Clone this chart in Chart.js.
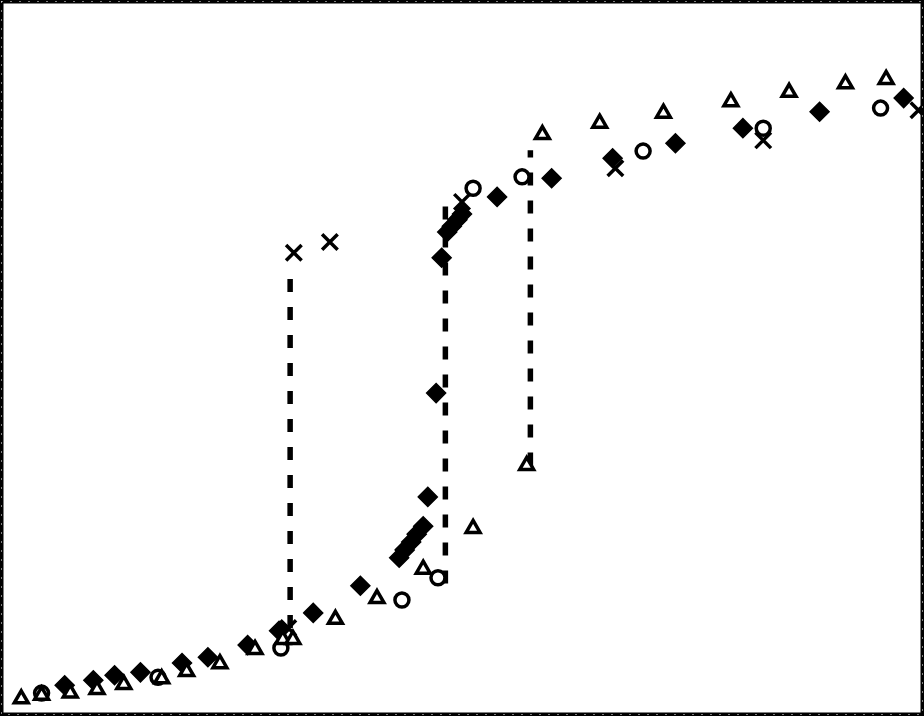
<!DOCTYPE html>
<html>
<head>
<meta charset="utf-8">
<script src="https://cdn.jsdelivr.net/npm/chart.js@4"></script>
<style>
  html, body { margin: 0; padding: 0; background: #fff; }
  canvas { display: block; }
</style>
</head>
<body>
<canvas id="chart" width="924" height="716"></canvas>
<script>
// values (x and y in plot units, 0..100)
const triX = [2.3, 4.5, 7.6, 10.5, 13.4, 17.5, 20.2, 23.8, 27.6, 30.6, 31.7, 36.3, 40.8, 45.8, 51.2, 57.0, 58.7, 64.9, 71.8, 79.1, 85.4, 91.5, 95.9];
const triY = [2.4, 2.9, 3.2, 3.7, 4.4, 5.2, 6.2, 7.3, 9.3, 10.7, 10.7, 13.5, 16.4, 20.5, 26.2, 35.0, 81.2, 82.8, 84.2, 85.8, 87.1, 88.3, 88.9];

const diaX = [7.0, 10.1, 12.4, 15.2, 19.7, 22.5, 26.8, 30.2, 33.9, 39.0, 43.2, 43.8, 44.5, 45.1, 45.8, 46.3, 47.2, 47.8, 48.4, 48.9, 49.5, 50.0, 53.8, 59.7, 66.3, 73.1, 80.4, 88.7, 97.8];
const diaY = [4.3, 5.0, 5.7, 6.1, 7.4, 8.2, 9.9, 11.9, 14.4, 18.2, 22.1, 23.2, 24.3, 25.4, 26.5, 30.6, 45.1, 64.0, 67.6, 68.4, 69.3, 70.1, 72.5, 75.1, 77.9, 80.0, 82.1, 84.4, 86.3];

const cirX = [4.5, 17.1, 30.4, 43.5, 47.4, 51.2, 56.5, 69.6, 82.6, 95.3];
const cirY = [3.2, 5.4, 9.5, 16.2, 19.3, 73.7, 75.3, 78.9, 82.1, 84.9];

const crsX = [31.2, 31.8, 35.7, 50.0, 66.6, 82.6, 99.4];
const crsY = [12.3, 64.7, 66.2, 71.8, 76.5, 80.4, 84.6];

// vertical dashed jumps: [x, yLow, yHigh]
const jumps = [
    [31.4, 12.3, 62.0],
    [48.2, 18.5, 71.5],
    [57.4, 35.0, 79.0]
];

const toPoints = (xs, ys) => xs.map((x, i) => ({ x: x, y: ys[i] }));

const frame = {
    id: 'frame',
    afterDraw(chart) {
        const ctx = chart.ctx;
        const w = chart.width, h = chart.height;
        ctx.save();
        ctx.strokeStyle = '#000';
        ctx.lineWidth = 4;
        ctx.strokeRect(1.5, 1.5, w - 3, h - 3);
        ctx.strokeStyle = '#fff';
        ctx.lineWidth = 1;
        ctx.setLineDash([1, 8]);
        ctx.strokeRect(1.5, 1.5, w - 3, h - 3);
        ctx.restore();
    }
};

const bg = {
    id: 'bg',
    beforeDraw(chart) {
        const ctx = chart.ctx;
        ctx.save();
        ctx.fillStyle = '#fff';
        ctx.fillRect(0, 0, chart.width, chart.height);
        ctx.restore();
    }
};

const lineSets = jumps.map(j => ({
    data: [{ x: j[0], y: j[1] }, { x: j[0], y: j[2] }],
    showLine: true,
    borderColor: '#000',
    borderWidth: 5.5,
    borderDash: [13, 15],
    borderCapStyle: 'butt',
    pointRadius: 0,
    order: 5
}));

new Chart(document.getElementById('chart'), {
    type: 'scatter',
    data: {
        datasets: [
            ...lineSets,
            {
                data: toPoints(diaX, diaY),
                pointStyle: 'rectRot',
                pointRadius: 9.5,
                backgroundColor: '#000',
                borderColor: '#000',
                borderWidth: 1.5,
                order: 4
            },
            {
                data: toPoints(crsX, crsY),
                pointStyle: 'crossRot',
                pointRadius: 11,
                borderColor: '#000',
                borderWidth: 3.5,
                order: 3
            },
            {
                data: toPoints(cirX, cirY),
                pointStyle: 'circle',
                pointRadius: 7,
                backgroundColor: '#fff',
                borderColor: '#000',
                borderWidth: 3.5,
                order: 2
            },
            {
                data: toPoints(triX, triY),
                pointStyle: 'triangle',
                pointRadius: 8,
                backgroundColor: '#fff',
                borderColor: '#000',
                borderWidth: 3.5,
                order: 1
            }
        ]
    },
    options: {
        responsive: false,
        animation: false,
        layout: { padding: 0, autoPadding: false },
        plugins: {
            legend: { display: false },
            tooltip: { enabled: false }
        },
        scales: {
            x: { type: 'linear', min: 0, max: 100, display: false },
            y: { type: 'linear', min: 0, max: 100, display: false }
        }
    },
    plugins: [bg, frame]
});
</script>
</body>
</html>
